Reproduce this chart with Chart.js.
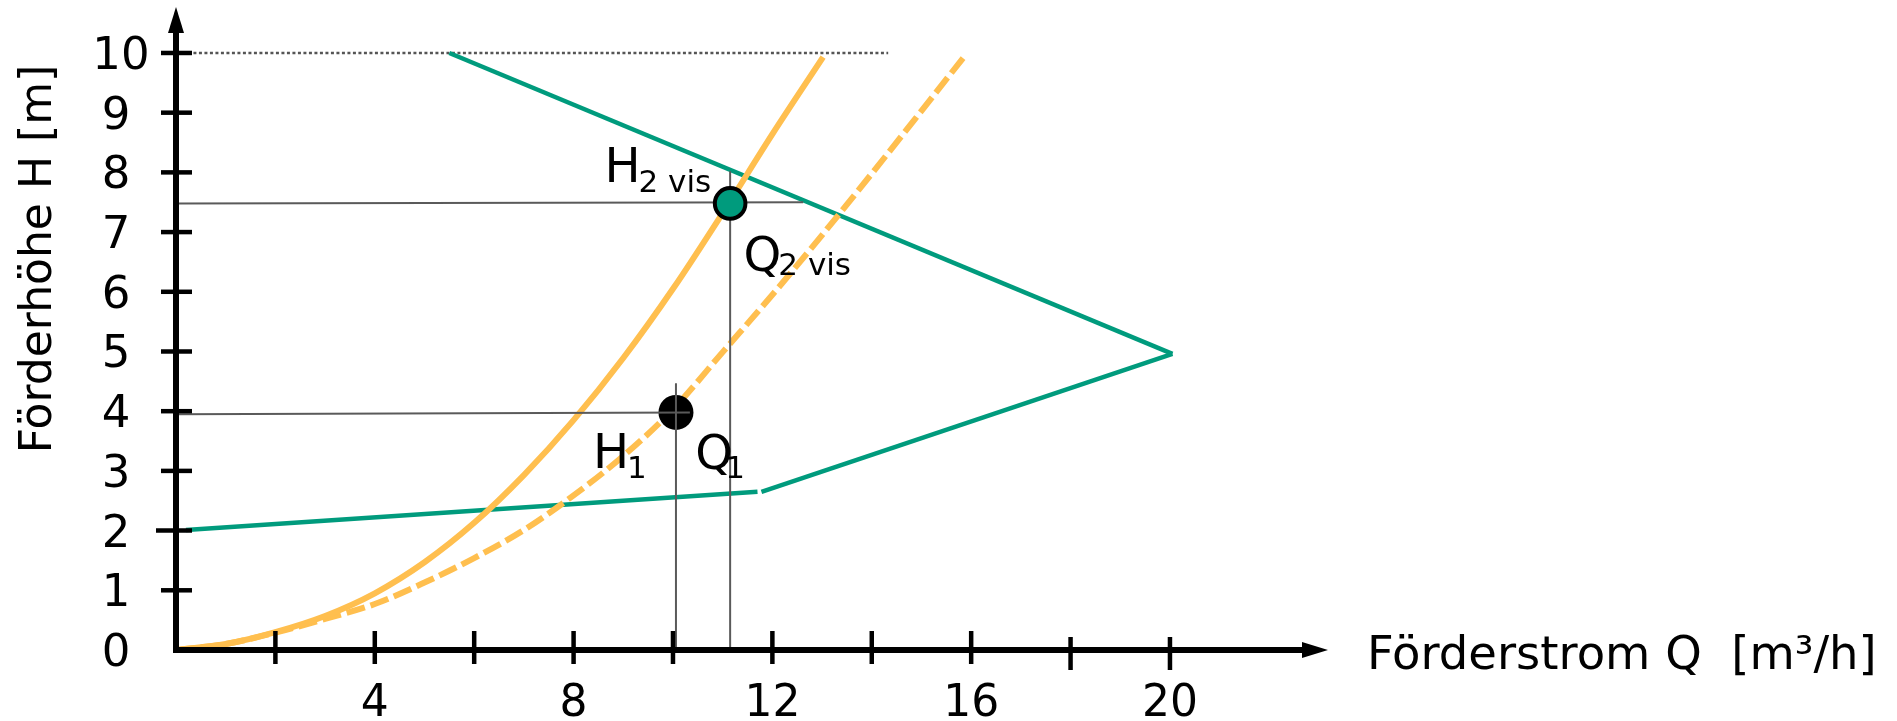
<!DOCTYPE html>
<html>
<head>
<meta charset="utf-8">
<title>Förderhöhe / Förderstrom</title>
<script src="https://cdn.jsdelivr.net/npm/chart.js@4.4.1/dist/chart.umd.min.js"></script>
<style>
  html, body { margin: 0; padding: 0; background: #ffffff; }
  canvas { display: block; }
</style>
</head>
<body>
<canvas id="chart" width="1897" height="721"></canvas>
<script>
// Flow Q [m³/h] and head H [m] of the two system curves
const systemCurveQ = [0, 1, 2, 3, 4, 5, 6, 7, 8, 9, 10, 11, 12, 13.02];
const systemCurveH = [0, 0.1, 0.3, 0.57, 0.95, 1.47, 2.13, 2.93, 3.85, 4.89, 6.05, 7.32, 8.64, 9.93];
const viscousCurveQ = [0, 1, 2, 3, 4, 5, 6, 7, 8, 9, 10, 11, 12, 13, 14, 15, 15.87];
const viscousCurveH = [0, 0.1, 0.29, 0.52, 0.77, 1.13, 1.54, 2.01, 2.59, 3.25, 4.03, 4.99, 5.95, 6.95, 7.98, 9.03, 9.95];

// Pump control range (upper and lower limit lines)
const pumpUpperQ = [5.5, 20.05];
const pumpUpperH = [10.0, 4.96];
const pumpLowerQ = [0.2, 11.7];
const pumpLowerH = [2.01, 2.65];
const pumpRiseQ = [11.78, 20.05];
const pumpRiseH = [2.65, 4.96];

// Maximum head reference
const maxHeadQ = [0.24, 14.33];
const maxHeadH = [10, 10];

// Operating points
const point1Q = [10.06];
const point1H = [3.98];
const point2Q = [11.15];
const point2H = [7.48];

// Read-off guide lines
const guideH2Q = [0, 12.62];
const guideH2H = [7.48, 7.50];
const guideQ2Q = [11.15, 11.15];
const guideQ2H = [0, 8.02];
const guideH1Q = [0, 10.34];
const guideH1H = [3.95, 3.98];
const guideQ1Q = [10.06, 10.06];
const guideQ1H = [0, 4.47];

// Axis ticks and labels
const yTickValues = [0, 1, 2, 3, 4, 5, 6, 7, 8, 9, 10];
const xTickMarks = [2, 4, 6, 8, 10, 12, 14, 16, 18, 20];
const xTickLabels = [4, 8, 12, 16, 20];

const xTitle = 'Förderstrom Q  [m³/h]';
const yTitle = 'Förderhöhe H [m]';

// Point labels: main text, subscript, anchor in data units, subscript offsets in px
const pointLabels = [
  { main: 'H', sub: '2 vis', q: 8.62, h: 7.84, subDx: -2, subDy: 10 },
  { main: 'Q', sub: '2 vis', q: 11.42, h: 6.35, subDx: -3, subDy: 4 },
  { main: 'H', sub: '1', q: 8.39, h: 3.05, subDx: -2, subDy: 10 },
  { main: 'Q', sub: '1', q: 10.45, h: 3.03, subDx: -8, subDy: 9 }
];

const FONT = '"DejaVu Sans", Verdana, sans-serif';
const GREEN = '#009B7D';
const ORANGE = '#FFBF4F';
const GUIDE = '#5a5a5a';

const pts = (qs, hs) => qs.map((q, i) => ({ x: q, y: hs[i] }));

function lineSet(data, color, width, extra) {
  return Object.assign({
    data, showLine: true, borderColor: color, borderWidth: width,
    pointRadius: 0, pointHoverRadius: 0, fill: false, borderCapStyle: 'butt', tension: 0
  }, extra || {});
}

const axesOverlay = {
  id: 'axesOverlay',
  afterDatasetsDraw(chart) {
    const { ctx, chartArea: a, scales: { x, y } } = chart;
    const x0 = x.getPixelForValue(0);
    const y0 = y.getPixelForValue(0);
    ctx.save();
    ctx.strokeStyle = '#000';
    ctx.fillStyle = '#000';
    ctx.lineCap = 'butt';

    // axis lines
    ctx.lineWidth = 6;
    ctx.beginPath(); ctx.moveTo(x0, y0 + 3); ctx.lineTo(x0, a.top + 24); ctx.stroke();
    ctx.beginPath(); ctx.moveTo(x0 - 3, y0); ctx.lineTo(a.right - 24, y0); ctx.stroke();

    // arrowheads
    ctx.beginPath();
    ctx.moveTo(x0, a.top); ctx.lineTo(x0 + 8, a.top + 26); ctx.lineTo(x0 - 8, a.top + 26);
    ctx.closePath(); ctx.fill();
    ctx.beginPath();
    ctx.moveTo(a.right, y0); ctx.lineTo(a.right - 26, y0 - 8); ctx.lineTo(a.right - 26, y0 + 8);
    ctx.closePath(); ctx.fill();

    // tick marks crossing the axes
    ctx.lineWidth = 4.5;
    yTickValues.forEach(v => {
      if (v === 0) return;
      const py = y.getPixelForValue(v);
      ctx.beginPath(); ctx.moveTo(x0 - (v === 2 ? 20 : 15), py); ctx.lineTo(x0 + 16, py); ctx.stroke();
    });
    xTickMarks.forEach(v => {
      const px = x.getPixelForValue(v);
      const off = v >= 18 ? 6 : 0;
      ctx.beginPath(); ctx.moveTo(px, y0 - 19 + off); ctx.lineTo(px, y0 + 14 + off); ctx.stroke();
    });

    // tick labels
    ctx.font = '45px ' + FONT;
    ctx.textBaseline = 'alphabetic';
    ctx.textAlign = 'center';
    yTickValues.forEach(v => {
      const py = y.getPixelForValue(v);
      const cx = v >= 10 ? x0 - 55 : x0 - 60;
      ctx.fillText(String(v), cx, py + 16);
    });
    ctx.font = '44px ' + FONT;
    xTickLabels.forEach(v => {
      ctx.fillText(String(v), x.getPixelForValue(v), y0 + 66);
    });

    // axis titles
    ctx.font = '46.5px ' + FONT;
    ctx.textAlign = 'left';
    ctx.fillText(xTitle, a.right + 39, y0 + 19);

    ctx.save();
    ctx.translate(51, 259);
    ctx.rotate(-Math.PI / 2);
    ctx.textAlign = 'center';
    ctx.font = '44px ' + FONT;
    ctx.fillText(yTitle, 0, 0, 390);
    ctx.restore();

    // point labels with subscripts
    pointLabels.forEach(l => {
      const px = x.getPixelForValue(l.q);
      const py = y.getPixelForValue(l.h);
      ctx.textAlign = 'left';
      ctx.font = '48px ' + FONT;
      ctx.fillText(l.main, px, py);
      const w = ctx.measureText(l.main).width;
      ctx.font = '31px ' + FONT;
      ctx.fillText(l.sub, px + w + l.subDx, py + l.subDy);
    });
    ctx.restore();
  }
};

new Chart(document.getElementById('chart'), {
  type: 'scatter',
  data: {
    datasets: [
      // drawn last = on top
      {
        data: pts(point2Q, point2H), pointRadius: 15.3, pointHoverRadius: 15.3,
        backgroundColor: GREEN, borderColor: '#000', borderWidth: 4, showLine: false
      },
      lineSet(pts(guideH2Q, guideH2H), GUIDE, 2),
      lineSet(pts(guideQ2Q, guideQ2H), GUIDE, 2),
      lineSet(pts(guideH1Q, guideH1H), GUIDE, 2),
      lineSet(pts(guideQ1Q, guideQ1H), GUIDE, 2),
      {
        data: pts(point1Q, point1H), pointRadius: 17.5, pointHoverRadius: 17.5,
        backgroundColor: '#000', borderWidth: 0, showLine: false
      },
      lineSet(pts(systemCurveQ, systemCurveH), ORANGE, 6, { cubicInterpolationMode: 'monotone' }),
      lineSet(pts(viscousCurveQ, viscousCurveH), ORANGE, 6, { cubicInterpolationMode: 'monotone', borderDash: [19, 6] }),
      lineSet(pts(pumpUpperQ, pumpUpperH), GREEN, 4.5),
      lineSet(pts(pumpLowerQ, pumpLowerH), GREEN, 4.5),
      lineSet(pts(pumpRiseQ, pumpRiseH), GREEN, 4.5),
      lineSet(pts(maxHeadQ, maxHeadH), '#555555', 2.5, { borderDash: [3, 2.5] })
    ]
  },
  options: {
    responsive: false,
    devicePixelRatio: 1,
    animation: false,
    events: [],
    layout: { autoPadding: false, padding: { left: 176, right: 569, top: 7, bottom: 71 } },
    plugins: { legend: { display: false }, tooltip: { enabled: false } },
    scales: {
      x: { type: 'linear', min: 0, max: 23.18, display: false },
      y: { type: 'linear', min: 0, max: 10.77, display: false }
    },
    elements: { line: { borderJoinStyle: 'round' } },
    clip: false
  },
  plugins: [axesOverlay]
});
</script>
</body>
</html>
